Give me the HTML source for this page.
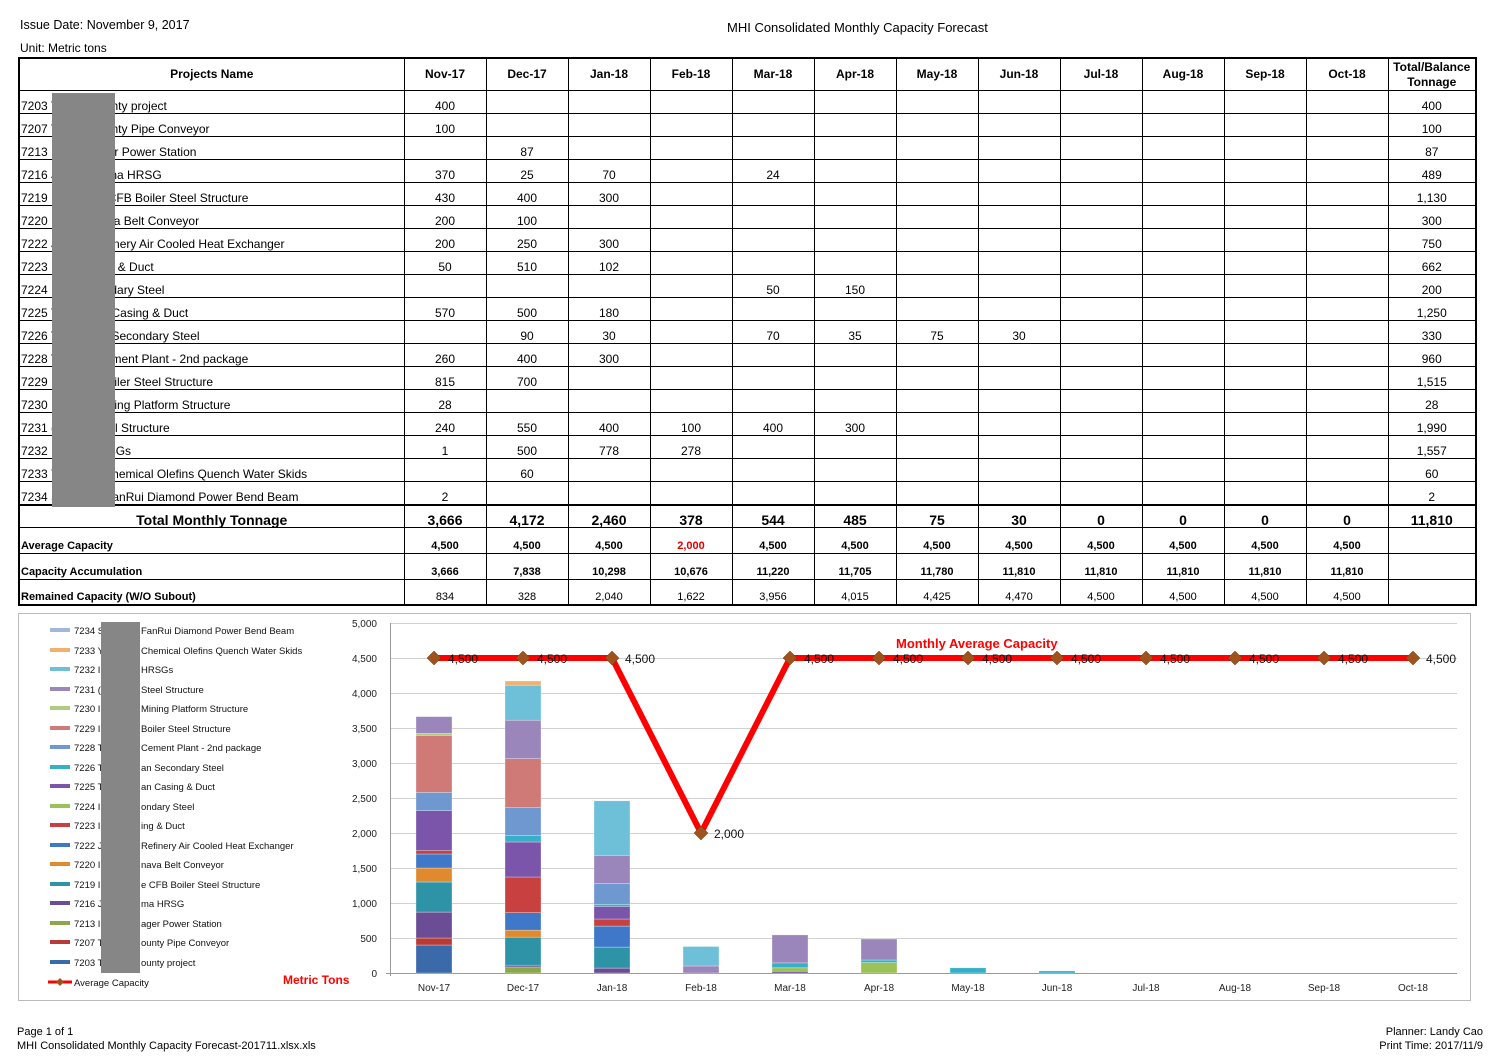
<!DOCTYPE html>
<html><head><meta charset="utf-8"><style>
body{margin:0;width:1500px;height:1061px;background:#fff;font-family:"Liberation Sans",sans-serif;color:#000;position:relative;overflow:hidden}
.t{position:absolute;font-size:12px;white-space:nowrap}
table{position:absolute;left:18px;top:57px;border-collapse:collapse;table-layout:fixed;border:2px solid #000;font-size:12px}
td{border:1px solid #000;padding:0 2px;text-align:center;vertical-align:bottom;height:22px;line-height:13px;overflow:hidden;white-space:nowrap}
td.n{text-align:left;padding-left:1px}
tr.h td{font-weight:bold;vertical-align:middle;height:31px}
tr.tot td{font-weight:bold;font-size:14px;height:21px;border-top:2px solid #000}
tr.s td{font-weight:bold;font-size:11px;height:25px}
tr.s td.n{font-size:11px}
tr.r td{font-size:11px;height:24px}
tr.r td.n{font-weight:bold}
.red{color:#e00000}
</style></head><body>
<div class="t" style="left:20px;top:18px;font-size:12.5px">Issue Date: November 9, 2017</div>
<div class="t" style="left:727px;top:20px;font-size:13px">MHI Consolidated Monthly Capacity Forecast</div>
<div class="t" style="left:20px;top:41px">Unit: Metric tons</div>
<table>
<colgroup><col style="width:385px"><col style="width:82px"><col style="width:82px"><col style="width:82px"><col style="width:82px"><col style="width:82px"><col style="width:82px"><col style="width:82px"><col style="width:82px"><col style="width:82px"><col style="width:82px"><col style="width:82px"><col style="width:82px"><col style="width:88px"></colgroup>
<tr class="h"><td>Projects Name</td><td>Nov-17</td><td>Dec-17</td><td>Jan-18</td><td>Feb-18</td><td>Mar-18</td><td>Apr-18</td><td>May-18</td><td>Jun-18</td><td>Jul-18</td><td>Aug-18</td><td>Sep-18</td><td>Oct-18</td><td style="line-height:15px">Total/Balance<br>Tonnage</td></tr>
<tr><td class="n">7203 T&nbsp;&nbsp;&nbsp;&nbsp;&nbsp;&nbsp;&nbsp;&nbsp;&nbsp;&nbsp;&nbsp;&nbsp;&nbsp;&nbsp;&nbsp;&nbsp;nty project</td><td>400</td><td></td><td></td><td></td><td></td><td></td><td></td><td></td><td></td><td></td><td></td><td></td><td>400</td></tr>
<tr><td class="n">7207 T&nbsp;&nbsp;&nbsp;&nbsp;&nbsp;&nbsp;&nbsp;&nbsp;&nbsp;&nbsp;&nbsp;&nbsp;&nbsp;&nbsp;&nbsp;&nbsp;nty Pipe Conveyor</td><td>100</td><td></td><td></td><td></td><td></td><td></td><td></td><td></td><td></td><td></td><td></td><td></td><td>100</td></tr>
<tr><td class="n">7213 I&nbsp;&nbsp;&nbsp;&nbsp;&nbsp;&nbsp;&nbsp;&nbsp;&nbsp;&nbsp;&nbsp;&nbsp;&nbsp;&nbsp;&nbsp;&nbsp;er Power Station</td><td></td><td>87</td><td></td><td></td><td></td><td></td><td></td><td></td><td></td><td></td><td></td><td></td><td>87</td></tr>
<tr><td class="n">7216 J&nbsp;&nbsp;&nbsp;&nbsp;&nbsp;&nbsp;&nbsp;&nbsp;&nbsp;&nbsp;&nbsp;&nbsp;&nbsp;&nbsp;&nbsp;&nbsp;na HRSG</td><td>370</td><td>25</td><td>70</td><td></td><td>24</td><td></td><td></td><td></td><td></td><td></td><td></td><td></td><td>489</td></tr>
<tr><td class="n">7219 I&nbsp;&nbsp;&nbsp;&nbsp;&nbsp;&nbsp;&nbsp;&nbsp;&nbsp;&nbsp;&nbsp;&nbsp;&nbsp;&nbsp;&nbsp;&nbsp;CFB Boiler Steel Structure</td><td>430</td><td>400</td><td>300</td><td></td><td></td><td></td><td></td><td></td><td></td><td></td><td></td><td></td><td>1,130</td></tr>
<tr><td class="n">7220 I&nbsp;&nbsp;&nbsp;&nbsp;&nbsp;&nbsp;&nbsp;&nbsp;&nbsp;&nbsp;&nbsp;&nbsp;&nbsp;&nbsp;&nbsp;&nbsp;va Belt Conveyor</td><td>200</td><td>100</td><td></td><td></td><td></td><td></td><td></td><td></td><td></td><td></td><td></td><td></td><td>300</td></tr>
<tr><td class="n">7222 J&nbsp;&nbsp;&nbsp;&nbsp;&nbsp;&nbsp;&nbsp;&nbsp;&nbsp;&nbsp;&nbsp;&nbsp;&nbsp;&nbsp;&nbsp;&nbsp;inery Air Cooled Heat Exchanger</td><td>200</td><td>250</td><td>300</td><td></td><td></td><td></td><td></td><td></td><td></td><td></td><td></td><td></td><td>750</td></tr>
<tr><td class="n">7223 I&nbsp;&nbsp;&nbsp;&nbsp;&nbsp;&nbsp;&nbsp;&nbsp;&nbsp;&nbsp;&nbsp;&nbsp;&nbsp;&nbsp;&nbsp;&nbsp;g &amp; Duct</td><td>50</td><td>510</td><td>102</td><td></td><td></td><td></td><td></td><td></td><td></td><td></td><td></td><td></td><td>662</td></tr>
<tr><td class="n">7224 I&nbsp;&nbsp;&nbsp;&nbsp;&nbsp;&nbsp;&nbsp;&nbsp;&nbsp;&nbsp;&nbsp;&nbsp;&nbsp;&nbsp;&nbsp;&nbsp;idary Steel</td><td></td><td></td><td></td><td></td><td>50</td><td>150</td><td></td><td></td><td></td><td></td><td></td><td></td><td>200</td></tr>
<tr><td class="n">7225 T&nbsp;&nbsp;&nbsp;&nbsp;&nbsp;&nbsp;&nbsp;&nbsp;&nbsp;&nbsp;&nbsp;&nbsp;&nbsp;&nbsp;&nbsp;&nbsp;Casing &amp; Duct</td><td>570</td><td>500</td><td>180</td><td></td><td></td><td></td><td></td><td></td><td></td><td></td><td></td><td></td><td>1,250</td></tr>
<tr><td class="n">7226 T&nbsp;&nbsp;&nbsp;&nbsp;&nbsp;&nbsp;&nbsp;&nbsp;&nbsp;&nbsp;&nbsp;&nbsp;&nbsp;&nbsp;&nbsp;&nbsp;Secondary Steel</td><td></td><td>90</td><td>30</td><td></td><td>70</td><td>35</td><td>75</td><td>30</td><td></td><td></td><td></td><td></td><td>330</td></tr>
<tr><td class="n">7228 T&nbsp;&nbsp;&nbsp;&nbsp;&nbsp;&nbsp;&nbsp;&nbsp;&nbsp;&nbsp;&nbsp;&nbsp;&nbsp;&nbsp;&nbsp;&nbsp;ment Plant - 2nd package</td><td>260</td><td>400</td><td>300</td><td></td><td></td><td></td><td></td><td></td><td></td><td></td><td></td><td></td><td>960</td></tr>
<tr><td class="n">7229 I&nbsp;&nbsp;&nbsp;&nbsp;&nbsp;&nbsp;&nbsp;&nbsp;&nbsp;&nbsp;&nbsp;&nbsp;&nbsp;&nbsp;&nbsp;&nbsp;oiler Steel Structure</td><td>815</td><td>700</td><td></td><td></td><td></td><td></td><td></td><td></td><td></td><td></td><td></td><td></td><td>1,515</td></tr>
<tr><td class="n">7230 I&nbsp;&nbsp;&nbsp;&nbsp;&nbsp;&nbsp;&nbsp;&nbsp;&nbsp;&nbsp;&nbsp;&nbsp;&nbsp;&nbsp;&nbsp;&nbsp;ning Platform Structure</td><td>28</td><td></td><td></td><td></td><td></td><td></td><td></td><td></td><td></td><td></td><td></td><td></td><td>28</td></tr>
<tr><td class="n">7231 (&nbsp;&nbsp;&nbsp;&nbsp;&nbsp;&nbsp;&nbsp;&nbsp;&nbsp;&nbsp;&nbsp;&nbsp;&nbsp;&nbsp;&nbsp;&nbsp;el Structure</td><td>240</td><td>550</td><td>400</td><td>100</td><td>400</td><td>300</td><td></td><td></td><td></td><td></td><td></td><td></td><td>1,990</td></tr>
<tr><td class="n">7232 I&nbsp;&nbsp;&nbsp;&nbsp;&nbsp;&nbsp;&nbsp;&nbsp;&nbsp;&nbsp;&nbsp;&nbsp;&nbsp;&nbsp;&nbsp;&nbsp;SGs</td><td>1</td><td>500</td><td>778</td><td>278</td><td></td><td></td><td></td><td></td><td></td><td></td><td></td><td></td><td>1,557</td></tr>
<tr><td class="n">7233 Y&nbsp;&nbsp;&nbsp;&nbsp;&nbsp;&nbsp;&nbsp;&nbsp;&nbsp;&nbsp;&nbsp;&nbsp;&nbsp;&nbsp;&nbsp;&nbsp;hemical Olefins Quench Water Skids</td><td></td><td>60</td><td></td><td></td><td></td><td></td><td></td><td></td><td></td><td></td><td></td><td></td><td>60</td></tr>
<tr><td class="n">7234 S&nbsp;&nbsp;&nbsp;&nbsp;&nbsp;&nbsp;&nbsp;&nbsp;&nbsp;&nbsp;&nbsp;&nbsp;&nbsp;&nbsp;&nbsp;&nbsp;anRui Diamond Power Bend Beam</td><td>2</td><td></td><td></td><td></td><td></td><td></td><td></td><td></td><td></td><td></td><td></td><td></td><td>2</td></tr>
<tr class="tot"><td>Total Monthly Tonnage</td><td>3,666</td><td>4,172</td><td>2,460</td><td>378</td><td>544</td><td>485</td><td>75</td><td>30</td><td>0</td><td>0</td><td>0</td><td>0</td><td>11,810</td></tr>
<tr class="s"><td class="n">Average Capacity</td><td>4,500</td><td>4,500</td><td>4,500</td><td class="red">2,000</td><td>4,500</td><td>4,500</td><td>4,500</td><td>4,500</td><td>4,500</td><td>4,500</td><td>4,500</td><td>4,500</td><td></td></tr>
<tr class="s"><td class="n">Capacity Accumulation</td><td>3,666</td><td>7,838</td><td>10,298</td><td>10,676</td><td>11,220</td><td>11,705</td><td>11,780</td><td>11,810</td><td>11,810</td><td>11,810</td><td>11,810</td><td>11,810</td><td></td></tr>
<tr class="r"><td class="n">Remained Capacity (W/O Subout)</td><td>834</td><td>328</td><td>2,040</td><td>1,622</td><td>3,956</td><td>4,015</td><td>4,425</td><td>4,470</td><td>4,500</td><td>4,500</td><td>4,500</td><td>4,500</td><td></td></tr>
</table>
<div style="position:absolute;left:52px;top:93px;width:63px;height:414px;background:#868686"></div>

<svg style="position:absolute;left:0;top:0" width="1500" height="1061" font-family="Liberation Sans, sans-serif">
<rect x="18.5" y="613.5" width="1452" height="387" fill="none" stroke="#bbb"/>
<g stroke="#d0d0d0" stroke-width="1">
<line x1="390" y1="623.5" x2="1457" y2="623.5"/><line x1="390" y1="658.5" x2="1457" y2="658.5"/><line x1="390" y1="693.5" x2="1457" y2="693.5"/><line x1="390" y1="728.5" x2="1457" y2="728.5"/><line x1="390" y1="763.5" x2="1457" y2="763.5"/><line x1="390" y1="798.5" x2="1457" y2="798.5"/><line x1="390" y1="833.5" x2="1457" y2="833.5"/><line x1="390" y1="868.5" x2="1457" y2="868.5"/><line x1="390" y1="903.5" x2="1457" y2="903.5"/><line x1="390" y1="938.5" x2="1457" y2="938.5"/>
</g>
<g stroke="#999"><line x1="390.5" y1="623" x2="390.5" y2="976"/><line x1="386" y1="973.5" x2="1457" y2="973.5"/></g>
<g font-size="10" text-anchor="end" fill="#222">
<text x="377" y="627">5,000</text><text x="377" y="662">4,500</text><text x="377" y="697">4,000</text><text x="377" y="732">3,500</text><text x="377" y="767">3,000</text><text x="377" y="802">2,500</text><text x="377" y="837">2,000</text><text x="377" y="872">1,500</text><text x="377" y="907">1,000</text><text x="377" y="942">500</text><text x="377" y="977">0</text>
</g>
<g font-size="10" text-anchor="middle" fill="#222">
<text x="434" y="991">Nov-17</text><text x="523" y="991">Dec-17</text><text x="612" y="991">Jan-18</text><text x="701" y="991">Feb-18</text><text x="790" y="991">Mar-18</text><text x="879" y="991">Apr-18</text><text x="968" y="991">May-18</text><text x="1057" y="991">Jun-18</text><text x="1146" y="991">Jul-18</text><text x="1235" y="991">Aug-18</text><text x="1324" y="991">Sep-18</text><text x="1413" y="991">Oct-18</text>
</g>
<g stroke="#fff" stroke-opacity="0.5" stroke-width="0.6">
<rect x="416" y="945" width="36" height="28" fill="#3a6aaa"/>
<rect x="416" y="938" width="36" height="7" fill="#b83b38"/>
<rect x="416" y="912.1" width="36" height="25.9" fill="#6a4d95"/>
<rect x="416" y="882" width="36" height="30.1" fill="#2f93a8"/>
<rect x="416" y="868" width="36" height="14" fill="#e08a30"/>
<rect x="416" y="854" width="36" height="14" fill="#3f78c8"/>
<rect x="416" y="850.5" width="36" height="3.5" fill="#c84040"/>
<rect x="416" y="810.6" width="36" height="39.9" fill="#7a55aa"/>
<rect x="416" y="792.4" width="36" height="18.2" fill="#6f97d0"/>
<rect x="416" y="735.35" width="36" height="57.05" fill="#d07a78"/>
<rect x="416" y="733.4" width="36" height="1.96" fill="#b0cc80"/>
<rect x="416" y="716.6" width="36" height="16.8" fill="#9b86bc"/>
<rect x="505" y="966.9" width="36" height="6.1" fill="#8aa84a"/>
<rect x="505" y="965.2" width="36" height="1.75" fill="#6a4d95"/>
<rect x="505" y="937.2" width="36" height="28" fill="#2f93a8"/>
<rect x="505" y="930.2" width="36" height="7" fill="#e08a30"/>
<rect x="505" y="912.7" width="36" height="17.5" fill="#3f78c8"/>
<rect x="505" y="877" width="36" height="35.7" fill="#c84040"/>
<rect x="505" y="842" width="36" height="35" fill="#7a55aa"/>
<rect x="505" y="835.7" width="36" height="6.3" fill="#35b0c8"/>
<rect x="505" y="807.7" width="36" height="28" fill="#6f97d0"/>
<rect x="505" y="758.7" width="36" height="49" fill="#d07a78"/>
<rect x="505" y="720.2" width="36" height="38.5" fill="#9b86bc"/>
<rect x="505" y="685.2" width="36" height="35" fill="#6ec0d8"/>
<rect x="505" y="681" width="36" height="4.2" fill="#f0b070"/>
<rect x="594" y="968.1" width="36" height="4.9" fill="#6a4d95"/>
<rect x="594" y="947.1" width="36" height="21" fill="#2f93a8"/>
<rect x="594" y="926.1" width="36" height="21" fill="#3f78c8"/>
<rect x="594" y="919" width="36" height="7.1" fill="#c84040"/>
<rect x="594" y="906.4" width="36" height="12.6" fill="#7a55aa"/>
<rect x="594" y="904.3" width="36" height="2.1" fill="#35b0c8"/>
<rect x="594" y="883.3" width="36" height="21" fill="#6f97d0"/>
<rect x="594" y="855.3" width="36" height="28" fill="#9b86bc"/>
<rect x="594" y="800.8" width="36" height="54.5" fill="#6ec0d8"/>
<rect x="683" y="966" width="36" height="7" fill="#9b86bc"/>
<rect x="683" y="946.5" width="36" height="19.5" fill="#6ec0d8"/>
<rect x="772" y="971.3" width="36" height="1.7" fill="#6a4d95"/>
<rect x="772" y="967.8" width="36" height="3.5" fill="#9cc05a"/>
<rect x="772" y="962.9" width="36" height="4.9" fill="#35b0c8"/>
<rect x="772" y="934.9" width="36" height="28" fill="#9b86bc"/>
<rect x="861" y="962.5" width="36" height="10.5" fill="#9cc05a"/>
<rect x="861" y="960" width="36" height="2.5" fill="#35b0c8"/>
<rect x="861" y="939" width="36" height="21" fill="#9b86bc"/>
<rect x="950" y="967.8" width="36" height="5.2" fill="#35b0c8"/>
<rect x="1039" y="970.9" width="36" height="2.1" fill="#35b0c8"/>
</g>
<polyline points="434,658 523,658 612,658 701,833 790,658 879,658 968,658 1057,658 1146,658 1235,658 1324,658 1413,658" fill="none" stroke="#ff0000" stroke-width="6" stroke-linejoin="miter"/>
<g fill="#a0521c" stroke="#7a3a10" stroke-width="0.5">
<path d="M434 651l7 7-7 7-7-7z"/><path d="M523 651l7 7-7 7-7-7z"/><path d="M612 651l7 7-7 7-7-7z"/><path d="M701 826l7 7-7 7-7-7z"/><path d="M790 651l7 7-7 7-7-7z"/><path d="M879 651l7 7-7 7-7-7z"/><path d="M968 651l7 7-7 7-7-7z"/><path d="M1057 651l7 7-7 7-7-7z"/><path d="M1146 651l7 7-7 7-7-7z"/><path d="M1235 651l7 7-7 7-7-7z"/><path d="M1324 651l7 7-7 7-7-7z"/><path d="M1413 651l7 7-7 7-7-7z"/>
</g>
<g font-size="12" fill="#111">
<text x="448" y="663">4,500</text><text x="537" y="663">4,500</text><text x="625" y="663">4,500</text><text x="714" y="838">2,000</text><text x="804" y="663">4,500</text><text x="893" y="663">4,500</text><text x="982" y="663">4,500</text><text x="1071" y="663">4,500</text><text x="1160" y="663">4,500</text><text x="1249" y="663">4,500</text><text x="1338" y="663">4,500</text><text x="1426" y="663">4,500</text>
</g>
<text x="896" y="648" font-size="13" font-weight="bold" fill="#ff0000">Monthly Average Capacity</text>
<text x="283" y="984" font-size="12" font-weight="bold" fill="#ff0000">Metric Tons</text>
<g font-size="9.5" fill="#111">
<rect x="50" y="628" width="20" height="4" fill="#a0b8e0"/><text x="74" y="634">7234 S</text><text x="141" y="634">FanRui Diamond Power Bend Beam</text>
<rect x="50" y="648" width="20" height="4" fill="#f0b070"/><text x="74" y="654">7233 Y</text><text x="141" y="654">Chemical Olefins Quench Water Skids</text>
<rect x="50" y="667" width="20" height="4" fill="#6ec0d8"/><text x="74" y="673">7232 I</text><text x="141" y="673">HRSGs</text>
<rect x="50" y="687" width="20" height="4" fill="#9b86bc"/><text x="74" y="693">7231 (</text><text x="141" y="693">Steel Structure</text>
<rect x="50" y="706" width="20" height="4" fill="#b0cc80"/><text x="74" y="712">7230 I</text><text x="141" y="712">Mining Platform Structure</text>
<rect x="50" y="726" width="20" height="4" fill="#d07a78"/><text x="74" y="732">7229 I</text><text x="141" y="732">Boiler Steel Structure</text>
<rect x="50" y="745" width="20" height="4" fill="#6f97d0"/><text x="74" y="751">7228 T</text><text x="141" y="751">Cement Plant - 2nd package</text>
<rect x="50" y="765" width="20" height="4" fill="#35b0c8"/><text x="74" y="771">7226 T</text><text x="141" y="771">an Secondary Steel</text>
<rect x="50" y="784" width="20" height="4" fill="#7a55aa"/><text x="74" y="790">7225 T</text><text x="141" y="790">an Casing &amp; Duct</text>
<rect x="50" y="804" width="20" height="4" fill="#9cc05a"/><text x="74" y="810">7224 I</text><text x="141" y="810">ondary Steel</text>
<rect x="50" y="823" width="20" height="4" fill="#c84040"/><text x="74" y="829">7223 I</text><text x="141" y="829">ing &amp; Duct</text>
<rect x="50" y="843" width="20" height="4" fill="#3f78c8"/><text x="74" y="849">7222 J</text><text x="141" y="849">Refinery Air Cooled Heat Exchanger</text>
<rect x="50" y="862" width="20" height="4" fill="#e08a30"/><text x="74" y="868">7220 I</text><text x="141" y="868">nava Belt Conveyor</text>
<rect x="50" y="882" width="20" height="4" fill="#2f93a8"/><text x="74" y="888">7219 I</text><text x="141" y="888">e CFB Boiler Steel Structure</text>
<rect x="50" y="901" width="20" height="4" fill="#6a4d95"/><text x="74" y="907">7216 J</text><text x="141" y="907">ma HRSG</text>
<rect x="50" y="921" width="20" height="4" fill="#8aa84a"/><text x="74" y="927">7213 I</text><text x="141" y="927">ager Power Station</text>
<rect x="50" y="940" width="20" height="4" fill="#b83b38"/><text x="74" y="946">7207 T</text><text x="141" y="946">ounty Pipe Conveyor</text>
<rect x="50" y="960" width="20" height="4" fill="#3a6aaa"/><text x="74" y="966">7203 T</text><text x="141" y="966">ounty project</text>
<line x1="48" y1="982" x2="72" y2="982" stroke="#ff0000" stroke-width="3"/><path d="M60 978l4 4-4 4-4-4z" fill="#a0521c"/><text x="74" y="986">Average Capacity</text>
</g>
<rect x="101" y="622" width="39" height="351" fill="#868686"/>
</svg>
<div class="t" style="left:17px;top:1026px;font-size:11px">Page 1 of 1</div>
<div class="t" style="left:17px;top:1040px;font-size:11px">MHI Consolidated Monthly Capacity Forecast-201711.xlsx.xls</div>
<div class="t" style="right:17px;top:1026px;font-size:11px;text-align:right">Planner: Landy Cao</div>
<div class="t" style="right:17px;top:1040px;font-size:11px;text-align:right">Print Time: 2017/11/9</div>
</body></html>
